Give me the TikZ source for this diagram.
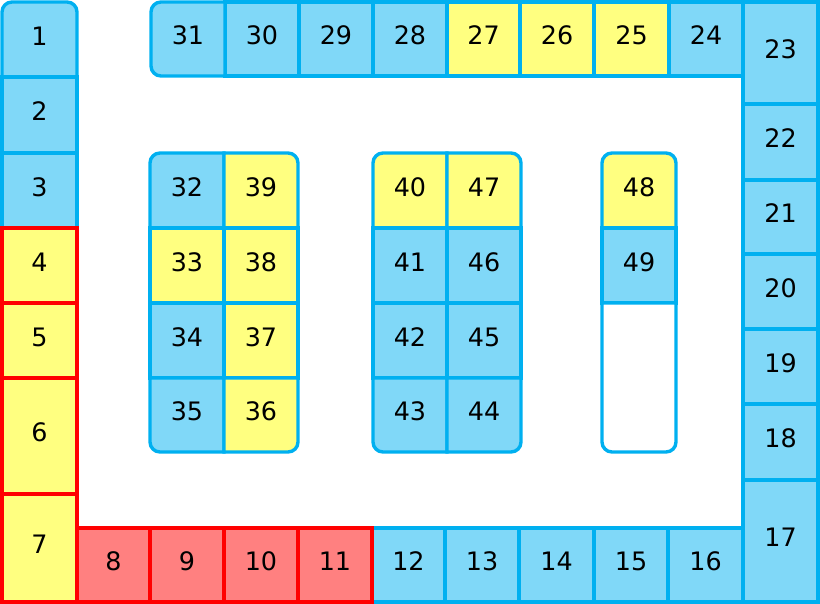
\documentclass[tikz,border=0pt]{standalone}
\usepackage{fontspec}
\setmainfont{DejaVu Sans}
\definecolor{bfill}{HTML}{80D8F8}
\definecolor{bline}{HTML}{00B0F0}
\definecolor{yfill}{HTML}{FFFF80}
\definecolor{rfill}{HTML}{FF8080}
\definecolor{rline}{HTML}{FF0000}
\tikzset{
  bb/.style={fill=bfill, draw=bline, line width=3.4bp},
  yb/.style={fill=yfill, draw=bline, line width=3.4bp},
  wb/.style={fill=white, draw=bline, line width=3.4bp},
  yr/.style={fill=yfill, draw=rline, line width=3.4bp},
  rr/.style={fill=rfill, draw=rline, line width=3.4bp},
  lab/.style={inner sep=0pt, font=\fontsize{25.5}{30}\selectfont, text=black, yshift=3.5bp}
}
\newcommand\cellbox[6]{%
  \path[#5] (#1,-#2) rectangle (#3,-#4);
  \node[lab] (c#6) at ({(#1+#3)/2},{-(#2+#4)/2}) {#6};}
\newcommand\celllab[5]{%
  \node[lab] (c#5) at ({(#1+#3)/2},{-(#2+#4)/2}) {#5};}
\begin{document}
\begin{tikzpicture}[x=1bp,y=1bp]
\useasboundingbox (0,0) rectangle (820,-604);
% ---- blue-bordered cells ----
% cell 1 (top corners rounded)
\path[bb] (2,-77) -- (2,-12) arc[start angle=180,end angle=90,radius=10] -- (67,-2) arc[start angle=90,end angle=0,radius=10] -- (77,-77) -- cycle;
\celllab{2}{2}{77}{77}{1}
\cellbox{2}{77}{77}{153}{bb}{2}
\cellbox{2}{153}{77}{228}{bb}{3}
% bottom row blue
\cellbox{372}{528}{445}{602}{bb}{12}
\cellbox{445}{528}{519}{602}{bb}{13}
\cellbox{519}{528}{594}{602}{bb}{14}
\cellbox{594}{528}{668}{602}{bb}{15}
\cellbox{668}{528}{743}{602}{bb}{16}
% right column
\cellbox{743}{480}{818}{602}{bb}{17}
\cellbox{743}{404}{818}{480}{bb}{18}
\cellbox{743}{329}{818}{404}{bb}{19}
\cellbox{743}{254}{818}{329}{bb}{20}
\cellbox{743}{180}{818}{254}{bb}{21}
\cellbox{743}{104}{818}{180}{bb}{22}
\cellbox{743}{2}{818}{104}{bb}{23}
% top row
\cellbox{669}{2}{743}{76}{bb}{24}
\cellbox{594}{2}{669}{76}{yb}{25}
\cellbox{520}{2}{594}{76}{yb}{26}
\cellbox{447}{2}{520}{76}{yb}{27}
\cellbox{373}{2}{447}{76}{bb}{28}
\cellbox{299}{2}{373}{76}{bb}{29}
\cellbox{225}{2}{299}{76}{bb}{30}
\path[bb] (225,-2) -- (161,-2) arc[start angle=90,end angle=180,radius=10] -- (151,-66) arc[start angle=180,end angle=270,radius=10] -- (225,-76) -- cycle;
\celllab{151}{2}{225}{76}{31}
% block 32-39
\path[bb] (150,-228) -- (150,-163) arc[start angle=180,end angle=90,radius=10] -- (224,-153) -- (224,-228) -- cycle;
\celllab{150}{153}{224}{228}{32}
\path[yb] (224,-228) -- (224,-153) -- (288,-153) arc[start angle=90,end angle=0,radius=10] -- (298,-228) -- cycle;
\celllab{224}{153}{298}{228}{39}
\cellbox{150}{228}{224}{303}{yb}{33}
\cellbox{224}{228}{298}{303}{yb}{38}
\cellbox{150}{303}{224}{378}{bb}{34}
\cellbox{224}{303}{298}{378}{yb}{37}
\path[bb] (150,-378) -- (150,-442) arc[start angle=180,end angle=270,radius=10] -- (224,-452) -- (224,-378) -- cycle;
\celllab{150}{378}{224}{452}{35}
\path[yb] (224,-378) -- (224,-452) -- (288,-452) arc[start angle=270,end angle=360,radius=10] -- (298,-378) -- cycle;
\celllab{224}{378}{298}{452}{36}
% block 40-47
\path[yb] (373,-228) -- (373,-163) arc[start angle=180,end angle=90,radius=10] -- (447,-153) -- (447,-228) -- cycle;
\celllab{373}{153}{447}{228}{40}
\path[yb] (447,-228) -- (447,-153) -- (511,-153) arc[start angle=90,end angle=0,radius=10] -- (521,-228) -- cycle;
\celllab{447}{153}{521}{228}{47}
\cellbox{373}{228}{447}{303}{bb}{41}
\cellbox{447}{228}{521}{303}{bb}{46}
\cellbox{373}{303}{447}{378}{bb}{42}
\cellbox{447}{303}{521}{378}{bb}{45}
\path[bb] (373,-378) -- (373,-442) arc[start angle=180,end angle=270,radius=10] -- (447,-452) -- (447,-378) -- cycle;
\celllab{373}{378}{447}{452}{43}
\path[bb] (447,-378) -- (447,-452) -- (511,-452) arc[start angle=270,end angle=360,radius=10] -- (521,-378) -- cycle;
\celllab{447}{378}{521}{452}{44}
% block 48-49
\path[yb] (602,-228) -- (602,-163) arc[start angle=180,end angle=90,radius=10] -- (666,-153) arc[start angle=90,end angle=0,radius=10] -- (676,-228) -- cycle;
\celllab{602}{153}{676}{228}{48}
\cellbox{602}{228}{676}{303}{bb}{49}
\path[wb] (602,-303) -- (602,-442) arc[start angle=180,end angle=270,radius=10] -- (666,-452) arc[start angle=270,end angle=360,radius=10] -- (676,-303) -- cycle;
% ---- red-bordered cells ----
\cellbox{2}{228}{77}{303}{yr}{4}
\cellbox{2}{303}{77}{378}{yr}{5}
\cellbox{2}{378}{77}{494}{yr}{6}
\cellbox{2}{494}{77}{602}{yr}{7}
\cellbox{77}{528}{150}{602}{rr}{8}
\cellbox{150}{528}{224}{602}{rr}{9}
\cellbox{224}{528}{298}{602}{rr}{10}
\cellbox{298}{528}{372}{602}{rr}{11}
\end{tikzpicture}
\end{document}
